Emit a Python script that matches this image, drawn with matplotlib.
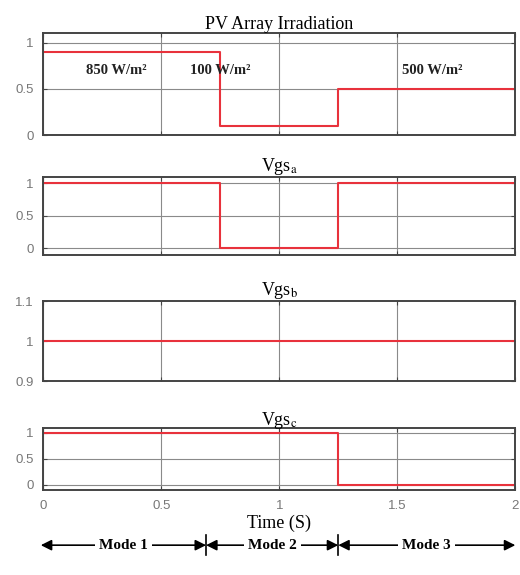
import matplotlib
matplotlib.use("Agg")
import matplotlib.pyplot as plt

# data
t_irr = [0, 0.75, 1.25, 2]
irr = [0.9, 0.1, 0.5, 0.5]
t_a = [0, 0.75, 1.25, 2]
vgs_a = [1, 0, 1, 1]
t_b = [0, 2]
vgs_b = [1, 1]
t_c = [0, 1.25, 2]
vgs_c = [1, 0, 0]

irr_labels = ["850 W/m²", "100 W/m²", "500 W/m²"]
irr_label_x = [0.31, 0.75, 1.65]
mode_labels = ["Mode 1", "Mode 2", "Mode 3"]
mode_bounds = [0, 0.69, 1.25, 2]

plt.rcParams["mathtext.fontset"] = "stix"
RED = "#e8323c"
SERIF = "Liberation Serif"

fig = plt.figure(figsize=(5.2, 5.75), dpi=100)
left, width = 0.083, 0.908
ax1 = fig.add_axes([left, 0.765, width, 0.177])
ax2 = fig.add_axes([left, 0.557, width, 0.136])
ax3 = fig.add_axes([left, 0.337, width, 0.139])
ax4 = fig.add_axes([left, 0.148, width, 0.108])


def style(ax, yticks, ylim, title):
    ax.set_xlim(0, 2)
    ax.set_ylim(*ylim)
    ax.set_yticks(yticks)
    ax.set_yticklabels([f"{v:g}" for v in yticks])
    ax.set_xticks([0, 0.5, 1, 1.5, 2])
    ax.grid(True, color="#8a8a8a", linewidth=0.8)
    ax.tick_params(direction="in", length=3, color="#444", labelsize=9.5,
                   labelcolor="#777", top=True, right=True, pad=7)
    for lab in ax.get_yticklabels() + ax.get_xticklabels():
        lab.set_family("Liberation Sans")
    for s in ax.spines.values():
        s.set_color("#444")
        s.set_linewidth(1.4)
    ax.set_title(title, family=SERIF, fontsize=13, pad=2)


ax1.step(t_irr, irr, where="post", color=RED, lw=1.5)
style(ax1, [0, 0.5, 1], (0, 1.1), "PV Array Irradiation")
for x, s in zip(irr_label_x, irr_labels):
    ax1.text(x, 0.7, s, ha="center", va="center", family=SERIF,
             fontweight="bold", fontsize=10.5, color="#222")

ax2.step(t_a, vgs_a, where="post", color=RED, lw=1.5)
style(ax2, [0, 0.5, 1], (-0.1, 1.1), r"Vgs$_{\mathrm{a}}$")

ax3.plot(t_b, vgs_b, color=RED, lw=1.5)
style(ax3, [0.9, 1, 1.1], (0.9, 1.1), r"Vgs$_{\mathrm{b}}$")
ax3.grid(False, axis="y")

ax4.step(t_c, vgs_c, where="post", color=RED, lw=1.5)
style(ax4, [0, 0.5, 1], (-0.1, 1.1), r"Vgs$_{\mathrm{c}}$")
for ax in (ax1, ax2, ax3):
    ax.set_xticklabels([])
ax4.set_xticklabels(["0", "0.5", "1", "1.5", "2"])
for lab in ax4.get_xticklabels():
    lab.set_family("Liberation Sans")
ax4.set_xlabel("Time (S)", family=SERIF, fontsize=13, labelpad=2)

# mode arrows under the time axis
tr = ax4.get_xaxis_transform()
y_arr = -0.89
for i, name in enumerate(mode_labels):
    x0, x1 = mode_bounds[i], mode_bounds[i + 1]
    if i == 0:
        x0 = -0.01
    ax4.annotate("", xy=(x0, y_arr), xytext=(x1, y_arr), xycoords=tr, textcoords=tr,
                 arrowprops=dict(arrowstyle="<|-|>", color="black", lw=1.2,
                                 mutation_scale=16, shrinkA=0, shrinkB=0),
                 annotation_clip=False)
    ax4.text((x0 + x1) / 2, y_arr, name, transform=tr, ha="center", va="center",
             family=SERIF, fontweight="bold", fontsize=11, clip_on=False,
             bbox=dict(facecolor="white", edgecolor="none", pad=3))
for xb in mode_bounds[1:3]:
    ax4.plot([xb, xb], [y_arr - 0.16, y_arr + 0.16], transform=tr, color="black",
             lw=1.2, clip_on=False)

fig.savefig("out.png", dpi=100)
